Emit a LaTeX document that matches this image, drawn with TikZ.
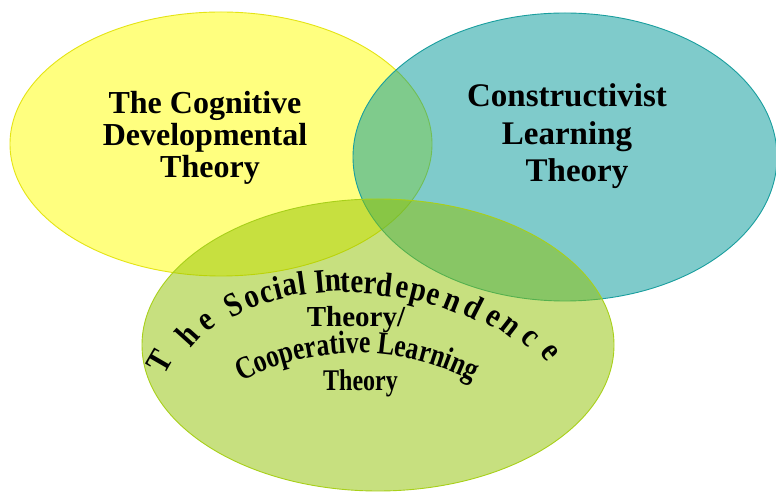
\documentclass[tikz,border=0pt]{standalone}
\usepackage{fontspec}
\setmainfont{Liberation Serif}
\newfontfamily\condfont{Liberation Serif}[FakeStretch=0.85]
\newfontfamily\narrowfont{Liberation Serif}[FakeStretch=0.8]
\usetikzlibrary{shapes.geometric,decorations.text}
\definecolor{yfill}{RGB}{255,255,0}
\definecolor{yedge}{RGB}{228,228,20}
\definecolor{tfill}{RGB}{0,153,153}
\definecolor{tedge}{RGB}{25,158,158}
\definecolor{gfill}{RGB}{145,195,0}
\definecolor{gedge}{RGB}{168,208,25}
\tikzset{
  venn/.style={ellipse, inner sep=0pt, outer sep=0pt, line width=0.9pt, fill opacity=0.5, draw opacity=1},
  bigtxt/.style={font=\bfseries\fontsize{32}{32}\selectfont, align=center, text=black, inner sep=0pt},
  arcletter/.style={font=\condfont\bfseries\fontsize{34}{34}\selectfont, anchor=center, inner sep=0pt},
  midtxt/.style={font=\bfseries\fontsize{29}{29}\selectfont, anchor=base, inner sep=0pt},
}
\begin{document}
\begin{tikzpicture}[x=1pt,y=1pt]
\useasboundingbox (0,0) rectangle (776,492);
\fill[white] (0,0) rectangle (776,492);
% circles
\node[venn, fill=yfill, draw=yedge, minimum width=422pt, minimum height=264pt] (cog) at (221,348) {};
\node[venn, fill=tfill, draw=tedge, minimum width=424pt, minimum height=288pt] (con) at (565,335) {};
\node[venn, fill=gfill, draw=gedge, minimum width=472pt, minimum height=292pt] (soc) at (378,147) {};
% top texts
\node[bigtxt] (cogtxt) at (205,354.5) {The Cognitive\\Developmental\\\hspace*{10pt}Theory};
\node[bigtxt, font=\bfseries\fontsize{33}{37.5}\selectfont] (contxt) at (567,355.5) {Constructivist\\Learning\hspace*{16pt}\\\hspace*{20pt}Theory};
% arched title
\foreach \ch/\x/\y/\r [count=\i] in {T/160/130/60, h/187/157/48, e/207/170/36, S/233/187/28, o/252/192/22, c/267/197/18, i/278/204/14, a/290/205/11, l/302/209/8,
  I/320/210/5, n/333/209/3, t/345/209/1, e/357/207/-1, r/370/206/-3, d/385/207/-6, e/402/202/-10, p/417/196/-14, e/433/195/-18, n/452/189/-22, d/474/185/-27, e/493/174/-33, n/510/165/-38, c/530/154/-44, e/550/139/-52}
  \node[arcletter, rotate=\r] (arc\i) at (\x,\y) {\ch};
\node[midtxt] (theory1) at (356,165) {Theory/};
\path[decorate, decoration={text along path, text align=center,
   text={|\narrowfont\bfseries\fontsize{32}{32}\selectfont|Cooperative Learning}}]
   (357,-111) ++(124:250) arc[start angle=124, end angle=56, radius=250];
\node[midtxt, font=\narrowfont\bfseries\fontsize{30}{30}\selectfont] (theory2) at (360.5,101) {Theory};
\end{tikzpicture}
\end{document}
